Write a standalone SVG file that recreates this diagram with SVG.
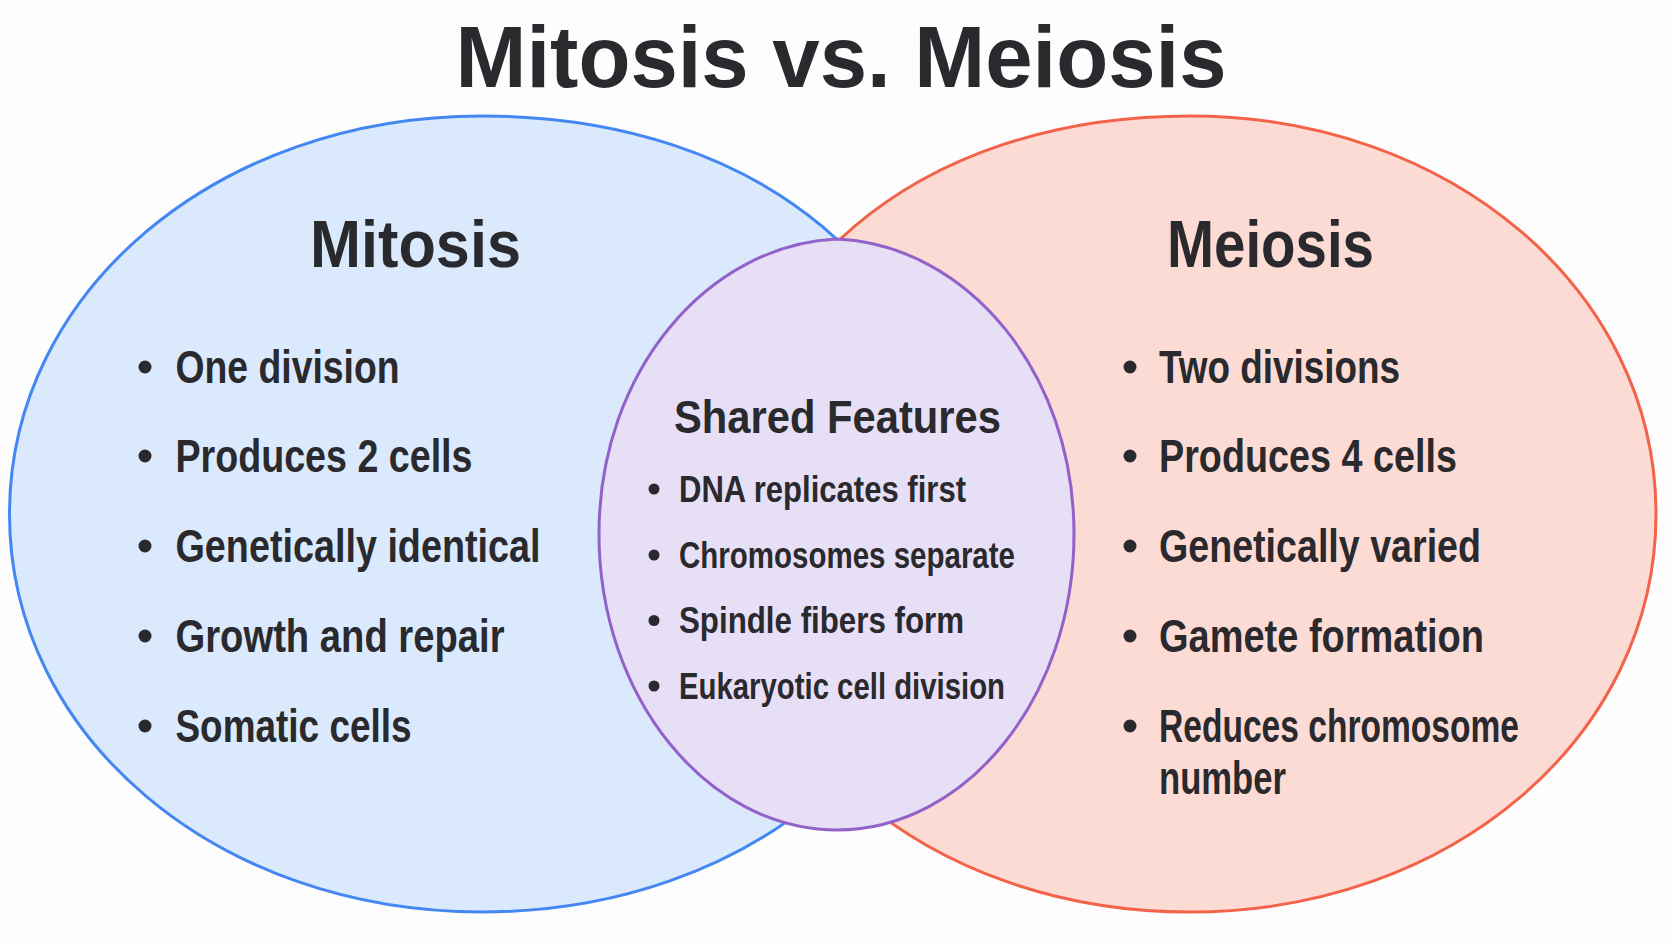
<svg xmlns="http://www.w3.org/2000/svg" width="1672" height="941" viewBox="0 0 1672 941">
  <style>
    .bg { fill: #fdfdfd; }
    .blue { fill: #dbe9fc; stroke: #4486f2; stroke-width: 3; }
    .red { fill: #fddbd5; stroke: #f3634a; stroke-width: 3; }
    .purple { fill: #e7dff6; stroke: #9262c8; stroke-width: 3; }
    text { fill: #2a2a2e; font-family: "Liberation Sans", Arial, sans-serif; font-weight: bold; }
    .title { font-size: 87px; }
    .head { font-size: 66px; }
    .item { font-family: "Liberation Sans Narrow", "Liberation Sans", Arial, sans-serif; font-size: 46px; }
    .sh { font-family: "Liberation Sans Narrow", "Liberation Sans", Arial, sans-serif; font-size: 47px; }
    .si { font-family: "Liberation Sans Narrow", "Liberation Sans", Arial, sans-serif; font-size: 37px; }
    .dot { fill: #2a2a2e; }
  </style>
  <rect class="bg" x="0" y="0" width="1672" height="941"/>

  <g id="mitosis">
    <path class="blue" d="M 9.5 514 C 9.5 291.1 217.4 116 482 116 C 760.8 116 954.5 279.2 954.5 514 C 954.5 738.9 749 912 482 912 C 217.4 912 9.5 736.9 9.5 514 Z"/>
  </g>
  <g id="meiosis">
    <path class="red" d="M 1656 514 C 1656 291.1 1451 116 1190 116 C 915.1 116 724 279.2 724 514 C 724 738.9 926.7 912 1190 912 C 1451 912 1656 736.9 1656 514 Z"/>
  </g>
  <g id="shared">
    <path class="purple" d="M 837 239 C 967 245 1074 371.8 1074 534 C 1074 696.8 967 830 837 830 C 707 830 599 696.8 599 534 C 599 371.8 707 245 837 239 Z"/>
  </g>

  <g id="connectors"/>

  <g id="title">
    <text class="title" x="455.5" y="87" textLength="771" lengthAdjust="spacingAndGlyphs">Mitosis vs. Meiosis</text>
  </g>

  <g id="mitosis-text">
    <text class="head" x="310" y="267" textLength="211" lengthAdjust="spacingAndGlyphs">Mitosis</text>
    <circle class="dot" cx="145" cy="367" r="6.5"/>
    <text class="item" x="175.5" y="383" textLength="224" lengthAdjust="spacingAndGlyphs">One division</text>
    <circle class="dot" cx="145" cy="456" r="6.5"/>
    <text class="item" x="175.5" y="472" textLength="297" lengthAdjust="spacingAndGlyphs">Produces 2 cells</text>
    <circle class="dot" cx="145" cy="546" r="6.5"/>
    <text class="item" x="175.5" y="562" textLength="365" lengthAdjust="spacingAndGlyphs">Genetically identical</text>
    <circle class="dot" cx="145" cy="636" r="6.5"/>
    <text class="item" x="175.5" y="652" textLength="329" lengthAdjust="spacingAndGlyphs">Growth and repair</text>
    <circle class="dot" cx="145" cy="726" r="6.5"/>
    <text class="item" x="175.5" y="742" textLength="236" lengthAdjust="spacingAndGlyphs">Somatic cells</text>
  </g>

  <g id="meiosis-text">
    <text class="head" x="1167" y="267" textLength="207" lengthAdjust="spacingAndGlyphs">Meiosis</text>
    <circle class="dot" cx="1130" cy="367" r="6.5"/>
    <text class="item" x="1159" y="383" textLength="241" lengthAdjust="spacingAndGlyphs">Two divisions</text>
    <circle class="dot" cx="1130" cy="456" r="6.5"/>
    <text class="item" x="1159" y="472" textLength="298" lengthAdjust="spacingAndGlyphs">Produces 4 cells</text>
    <circle class="dot" cx="1130" cy="546" r="6.5"/>
    <text class="item" x="1159" y="562" textLength="322" lengthAdjust="spacingAndGlyphs">Genetically varied</text>
    <circle class="dot" cx="1130" cy="636" r="6.5"/>
    <text class="item" x="1159" y="652" textLength="325" lengthAdjust="spacingAndGlyphs">Gamete formation</text>
    <circle class="dot" cx="1130" cy="726" r="6.5"/>
    <text class="item" x="1159" y="742" textLength="360" lengthAdjust="spacingAndGlyphs">Reduces chromosome</text>
    <text class="item" x="1159" y="794" textLength="127" lengthAdjust="spacingAndGlyphs">number</text>
  </g>

  <g id="shared-text">
    <text class="sh" x="674" y="433" textLength="327" lengthAdjust="spacingAndGlyphs">Shared Features</text>
    <circle class="dot" cx="654" cy="489" r="5.5"/>
    <text class="si" x="679" y="501.5" textLength="287" lengthAdjust="spacingAndGlyphs">DNA replicates first</text>
    <circle class="dot" cx="654" cy="555" r="5.5"/>
    <text class="si" x="679" y="567.5" textLength="336" lengthAdjust="spacingAndGlyphs">Chromosomes separate</text>
    <circle class="dot" cx="654" cy="620.5" r="5.5"/>
    <text class="si" x="679" y="633" textLength="285" lengthAdjust="spacingAndGlyphs">Spindle fibers form</text>
    <circle class="dot" cx="654" cy="686" r="5.5"/>
    <text class="si" x="679" y="698.5" textLength="326" lengthAdjust="spacingAndGlyphs">Eukaryotic cell division</text>
  </g>
</svg>
